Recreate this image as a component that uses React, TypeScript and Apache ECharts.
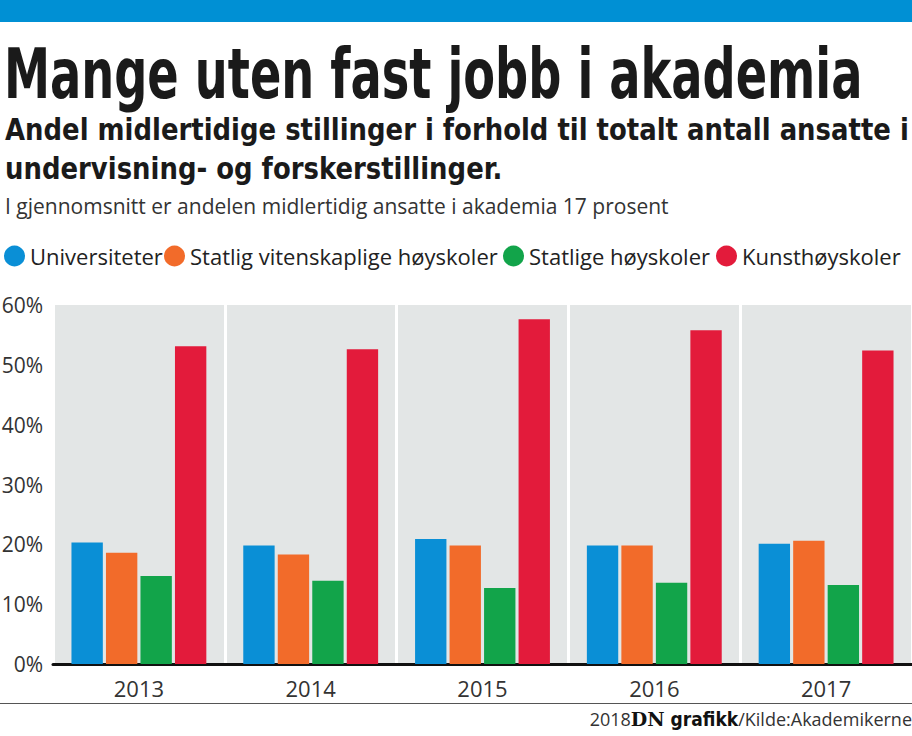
import React, { useEffect, useRef } from "react";
import * as echarts from "echarts";

const years = ["2013", "2014", "2015", "2016", "2017"];
const seriesNames = ["Universiteter", "Statlig vitenskaplige høyskoler", "Statlige høyskoler", "Kunsthøyskoler"];
const universiteter = [20.3, 19.8, 20.9, 19.8, 20.1];
const statligVitenskaplige = [18.6, 18.3, 19.8, 19.8, 20.6];
const statligeHoyskoler = [14.7, 13.9, 12.7, 13.6, 13.2];
const kunsthoyskoler = [53.1, 52.6, 57.6, 55.8, 52.4];
const colors = ["#0a8fd6", "#f26b2a", "#12a44a", "#e31b3b"];
const yTicks = [0, 10, 20, 30, 40, 50, 60];

const titleText = "Mange uten fast jobb i akademia";
const subtitle1 = "Andel midlertidige stillinger i forhold til totalt antall ansatte i";
const subtitle2 = "undervisning- og forskerstillinger.";
const noteText = "I gjennomsnitt er andelen midlertidig ansatte i akademia 17 prosent";

const COND = '"DejaVu Sans Condensed", "Liberation Sans Narrow", "Roboto", sans-serif';
const LIGHT = '"Open Sans", "Noto Sans", sans-serif';
const legendX = [4, 164, 503, 716];

export default function App() {
  const ref = useRef<HTMLDivElement>(null);
  useEffect(() => {
    if (!ref.current) return;
    const chart = echarts.init(ref.current, undefined, { renderer: "svg" });
    const data = [universiteter, statligVitenskaplige, statligeHoyskoler, kunsthoyskoler];
    chart.setOption({
      animation: false,
      backgroundColor: "#ffffff",
      textStyle: { fontFamily: LIGHT },
      graphic: [
        { type: "rect", shape: { x: 0, y: 0, width: 912, height: 22 }, style: { fill: "#0090d4" } },
        {
          type: "text", x: 4, y: 38, scaleX: 0.735,
          style: { text: titleText, fontFamily: COND, fontWeight: "bold", fontSize: 70, fill: "#1a1a1a", textVerticalAlign: "top" },
        },
        {
          type: "text", x: 5, y: 114, scaleX: 0.93,
          style: { text: subtitle1, fontFamily: COND, fontWeight: "bold", fontSize: 31, fill: "#1a1a1a", textVerticalAlign: "top" },
        },
        {
          type: "text", x: 5, y: 153, scaleX: 0.93,
          style: { text: subtitle2, fontFamily: COND, fontWeight: "bold", fontSize: 31, fill: "#1a1a1a", textVerticalAlign: "top" },
        },
        {
          type: "text", x: 5, y: 195, scaleX: 1.0,
          style: { text: noteText, fontFamily: LIGHT, fontSize: 21, fill: "#333", textVerticalAlign: "top" },
        },
        { type: "line", shape: { x1: 0, y1: 703.5, x2: 912, y2: 703.5 }, style: { stroke: "#555", lineWidth: 1 } },
        {
          type: "text", x: 912, y: 709,
          style: {
            text: "{a|2018}{b|DN}{c| grafikk}{a|/Kilde:Akademikerne}",
            textVerticalAlign: "top",
            textAlign: "right",
            rich: {
              a: { fontFamily: LIGHT, fontSize: 18, fill: "#333" },
              b: { fontFamily: '"DejaVu Serif", serif', fontWeight: "bold", fontSize: 19, fill: "#111" },
              c: { fontFamily: COND, fontWeight: "bold", fontSize: 19, fill: "#111" },
            },
          },
        },
      ],
      legend: seriesNames.map((n, i) => ({
        left: legendX[i], top: 245,
        icon: "circle",
        itemWidth: 21, itemHeight: 21, itemGap: 0,
        padding: 0,
        textStyle: { fontSize: 22, color: "#222", fontFamily: LIGHT },
        data: [n],
      })),
      grid: { left: 53, right: 0, top: 305, bottom: 72, outerBoundsMode: "none", containLabel: false },
      xAxis: {
        type: "category",
        data: years,
        axisTick: { show: false },
        axisLine: { show: true, lineStyle: { color: "#111", width: 3 } },
        axisLabel: { fontSize: 22, color: "#333", margin: 13, fontFamily: LIGHT },
        splitArea: { show: true, areaStyle: { color: ["#e3e6e6"] } },
        splitLine: { show: true, lineStyle: { color: "#ffffff", width: 3 } },
      },
      yAxis: {
        type: "value",
        min: 0, max: 60, interval: 10,
        axisLine: { show: false },
        axisTick: { show: false },
        axisLabel: { fontSize: 21, color: "#333", margin: 10, fontFamily: LIGHT, formatter: (v: number) => (yTicks.includes(v) ? v + "%" : "") },
        splitLine: { show: true, lineStyle: { color: "#333", type: [2, 3], width: 1.2 } },
      },
      series: data.map((d, i) => ({
        name: seriesNames[i],
        type: "bar",
        data: d,
        itemStyle: { color: colors[i] },
        barGap: "10%",
        barCategoryGap: "21.5%",
      })),
    });
    return () => chart.dispose();
  }, []);
  return <div ref={ref} style={{ width: 912, height: 736, position: "absolute", left: 0, top: 0 }} />;
}
